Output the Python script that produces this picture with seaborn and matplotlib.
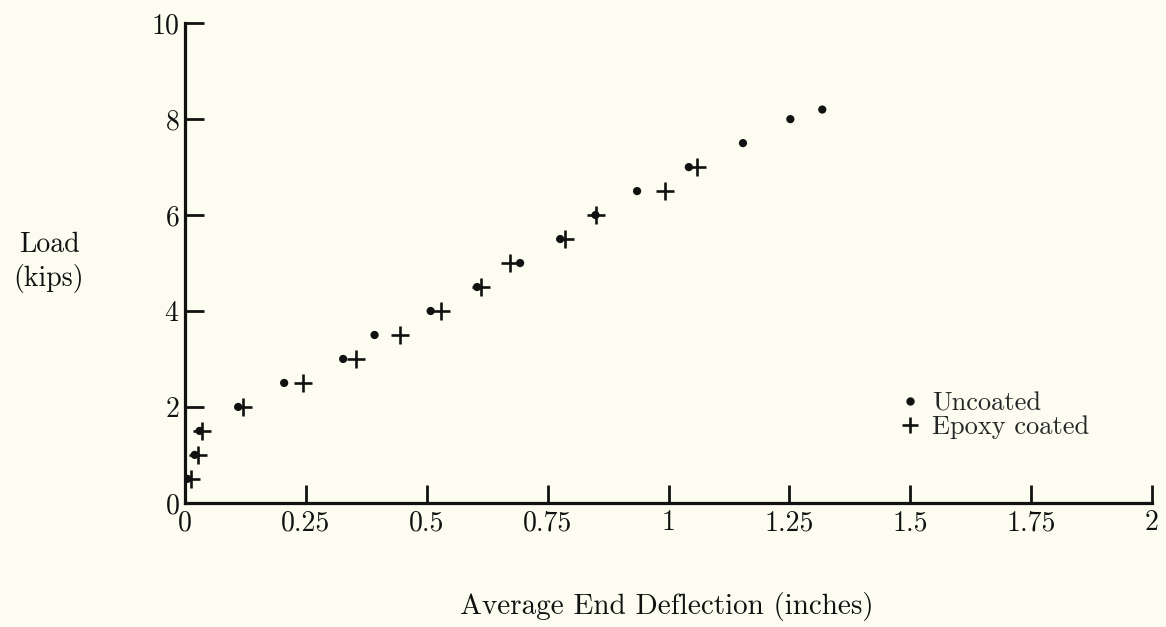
import pandas as pd
import matplotlib.pyplot as plt
import seaborn as sns
from matplotlib.lines import Line2D

# deflection (inches) vs load (kips)
uncoated_defl = [0.005, 0.02, 0.03, 0.11, 0.205, 0.327, 0.392, 0.508, 0.604, 0.693,
                 0.776, 0.849, 0.935, 1.042, 1.154, 1.252, 1.318]
uncoated_load = [0.5, 1.0, 1.5, 2.0, 2.5, 3.0, 3.5, 4.0, 4.5, 5.0,
                 5.5, 6.0, 6.5, 7.0, 7.5, 8.0, 8.2]

epoxy_defl = [0.012, 0.026, 0.036, 0.12, 0.245, 0.353, 0.444, 0.529, 0.612, 0.673,
              0.785, 0.849, 0.992, 1.058]
epoxy_load = [0.5, 1.0, 1.5, 2.0, 2.5, 3.0, 3.5, 4.0, 4.5, 5.0,
              5.5, 6.0, 6.5, 7.0]

x_ticks = [0, 0.25, 0.5, 0.75, 1, 1.25, 1.5, 1.75, 2]
x_tick_labels = ['0', '0.25', '0.5', '0.75', '1', '1.25', '1.5', '1.75', '2']
y_ticks = [0, 2, 4, 6, 8, 10]

df_unc = pd.DataFrame({'defl': uncoated_defl, 'load': uncoated_load})
df_epx = pd.DataFrame({'defl': epoxy_defl, 'load': epoxy_load})

sns.set_style('white')
plt.rcParams['font.family'] = ['cmr10', 'DejaVu Serif']
plt.rcParams['axes.formatter.use_mathtext'] = True

ink = '#111111'
bg = '#fcfcf0'
fig = plt.figure(figsize=(11.66, 6.27), dpi=100, facecolor=bg)
ax = fig.add_axes([0.1587, 0.198, 0.8293, 0.765])
ax.set_facecolor(bg)

sns.scatterplot(data=df_unc, x='defl', y='load', ax=ax, marker='o', s=35,
                color=ink, edgecolor='none', legend=False, zorder=3)
sns.scatterplot(data=df_epx, x='defl', y='load', ax=ax, marker='+', s=160,
                color=ink, linewidth=1.9, legend=False, zorder=4)

ax.set_xlim(0, 2)
ax.set_ylim(0, 10)
ax.set_xticks(x_ticks)
ax.set_xticklabels(x_tick_labels)
ax.set_yticks(y_ticks)
ax.tick_params(axis='x', direction='in', length=13, width=2.0, pad=5,
               labelsize=20, colors=ink, bottom=True)
ax.tick_params(axis='y', direction='in', length=14, width=2.0, pad=4,
               labelsize=20, colors=ink, left=True)

for side in ['top', 'right']:
    ax.spines[side].set_visible(False)
for side in ['left', 'bottom']:
    ax.spines[side].set_linewidth(2.3)
    ax.spines[side].set_color(ink)

ax.set_xlabel('')
ax.set_ylabel('')
fig.text(0.572, 0.033, 'Average End Deflection (inches)', fontsize=21,
         ha='center', va='center', color=ink)
fig.text(0.042, 0.582, 'Load\n(kips)', fontsize=20, ha='center', va='center',
         color=ink, linespacing=1.25)

handles = [
    Line2D([], [], linestyle='none', marker='o', markersize=5, color=ink),
    Line2D([], [], linestyle='none', marker='+', markersize=11,
           markeredgewidth=1.9, color=ink),
]
ax.legend(handles, ['Uncoated', 'Epoxy coated'], loc='center left',
          bbox_to_anchor=(0.771, 0.338), bbox_transform=fig.transFigure,
          frameon=False, fontsize=19, handletextpad=0.45, labelspacing=0.0,
          borderpad=0, borderaxespad=0, handlelength=0.8)

fig.savefig('out.png', dpi=100, facecolor=bg)
